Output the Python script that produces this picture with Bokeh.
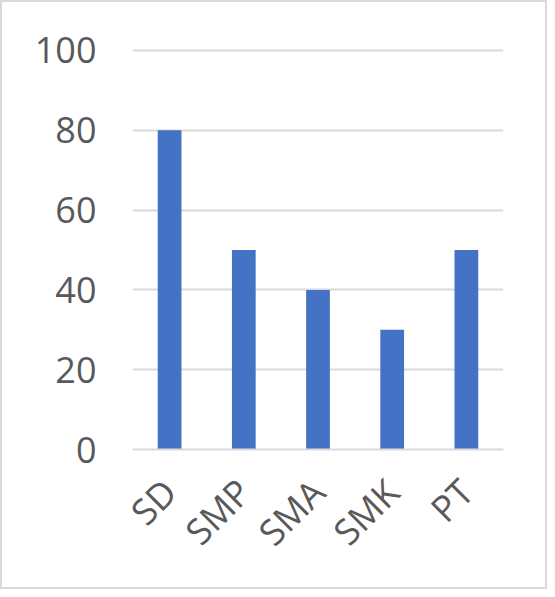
from bokeh.plotting import figure
from bokeh.models import Range1d, FixedTicker
from bokeh.embed import file_html
from bokeh.resources import INLINE
import math

categories = ["SD", "SMP", "SMA", "SMK", "PT"]
values = [80, 50, 40, 30, 50]
y_ticks = [0, 20, 40, 60, 80, 100]

TEXT = "#595959"
GRID = "#d9d9d9"
BAR = "#4472C4"
FONT = "Open Sans"

p = figure(x_range=categories, y_range=Range1d(0, 100.5), width=547, height=589,
           output_backend="svg", toolbar_location=None,
           min_border_left=130, min_border_right=46, min_border_top=46, min_border_bottom=142)
p.outline_line_color = None
p.styles = {"border": "2px solid #d9d9d9", "box-sizing": "border-box"}

p.vbar(x=categories, top=values, width=0.32, color=BAR, line_color=None)

p.xgrid.grid_line_color = None
p.ygrid.grid_line_color = GRID
p.ygrid.grid_line_width = 2
p.yaxis.ticker = FixedTicker(ticks=y_ticks)

for ax in (p.xaxis, p.yaxis):
    ax.major_label_text_font = FONT
    ax.major_label_text_font_size = "36px"
    ax.major_label_text_color = TEXT
    ax.major_tick_line_color = None
    ax.minor_tick_line_color = None
    ax.major_tick_out = 0
    ax.major_tick_in = 0

p.yaxis.axis_line_color = None
p.yaxis.major_label_standoff = 36
p.xaxis.axis_line_color = GRID
p.xaxis.axis_line_width = 2
p.xaxis.major_label_orientation = math.pi / 4
p.xaxis.major_label_standoff = 36

open("out.html", "w").write(file_html(p, INLINE))
